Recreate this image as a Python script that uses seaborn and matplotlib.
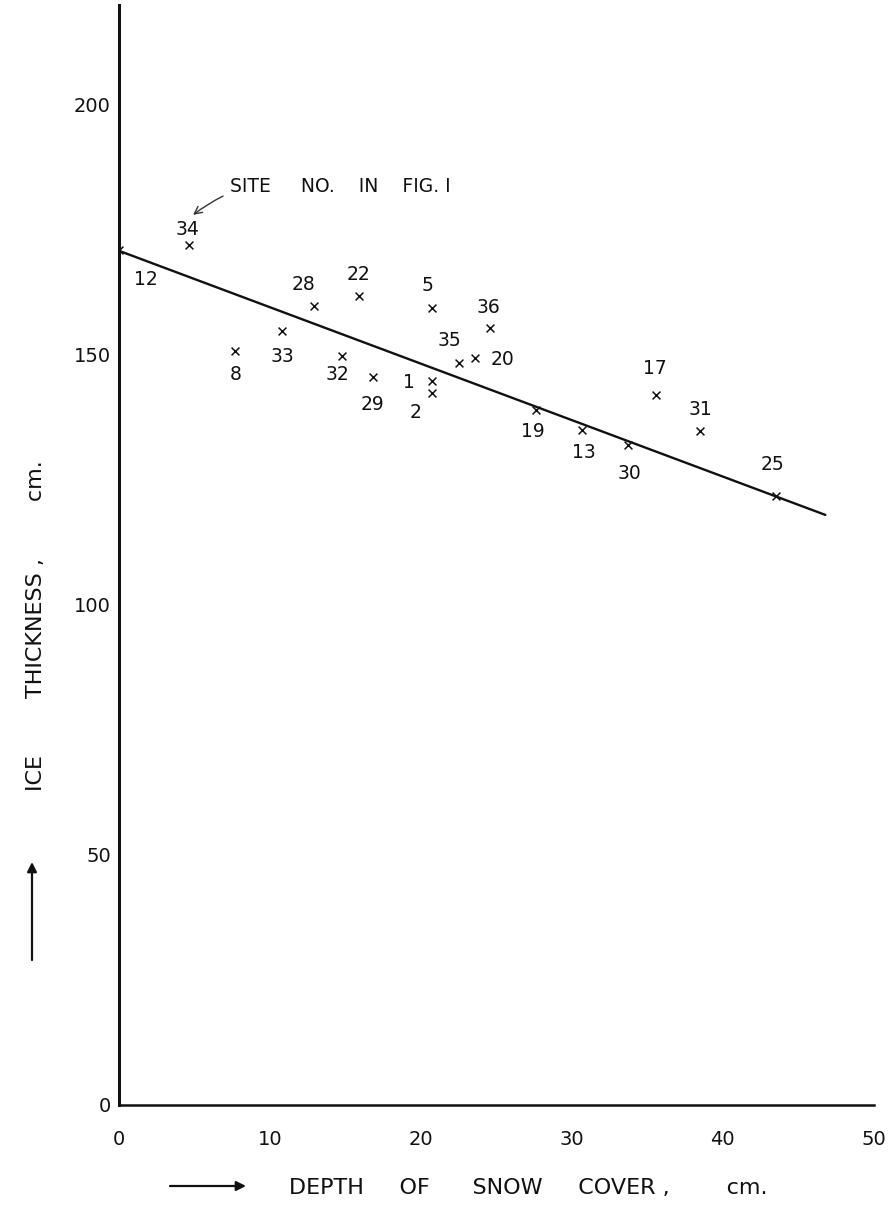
import matplotlib
matplotlib.use("Agg")
import matplotlib.pyplot as plt
import seaborn as sns
import pandas as pd
from matplotlib.ticker import MultipleLocator

# ---- data ----
sites = ["34", "12", "28", "22", "5", "36", "33", "8", "32", "29",
         "1", "2", "35", "20", "19", "13", "30", "17", "31", "25"]
snow_depth = [4.6, 0.0, 12.9, 15.9, 20.7, 24.6, 10.8, 7.7, 14.8, 16.8,
              20.7, 20.7, 22.5, 23.6, 27.6, 30.7, 33.7, 35.6, 38.5, 43.5]
ice_thickness = [172.0, 171.0, 159.8, 161.8, 159.4, 155.4, 154.8, 150.8, 149.8, 145.6,
                 144.8, 142.4, 148.4, 149.4, 139.0, 135.0, 132.0, 142.0, 134.8, 121.8]

fit_x = [0.0, 46.8]
fit_y = [170.8, 118.0]

x_ticks = [0, 10, 20, 30, 40, 50]
y_ticks = [0, 50, 100, 150, 200]

# label offsets (pixels) relative to each marker
label_offsets = {
    "34": (-1, 15), "12": (27, -30), "28": (-10, 21), "22": (-1, 21),
    "5": (-4, 22), "36": (-2, 20), "33": (0, -26), "8": (0, -24),
    "32": (-5, -19), "29": (0, -28), "1": (-23, -2), "2": (-16, -20),
    "35": (-9, 22), "20": (27, -2), "19": (-3, -22), "13": (1, -23),
    "30": (2, -29), "17": (-1, 26), "31": (0, 21), "25": (-3, 31),
}

df = pd.DataFrame({"site": sites, "snow": snow_depth, "ice": ice_thickness})
line_df = pd.DataFrame({"snow": fit_x, "ice": fit_y})

sns.set_style("white")
plt.rcParams["font.family"] = ["DejaVu Sans"]

INK = "#111111"

fig = plt.figure(figsize=(8.96, 12.05), dpi=100)
ax = fig.add_axes([0.133, 0.083, 0.842, 0.913])

sns.lineplot(data=line_df, x="snow", y="ice", ax=ax, color=INK, linewidth=1.7)
sns.scatterplot(data=df, x="snow", y="ice", ax=ax, marker="x", color=INK,
                s=32, linewidth=1.1, zorder=3)

for s, xv, yv in zip(sites, snow_depth, ice_thickness):
    dx, dy = label_offsets[s]
    ax.annotate(s, (xv, yv), xytext=(dx, dy), textcoords="offset pixels",
                ha="center", va="center", fontsize=13.5, color=INK)

ax.annotate("SITE     NO.    IN    FIG. I", xy=(4.9, 178.0), xytext=(7.35, 183.6),
            ha="left", va="center", fontsize=13.5, color=INK,
            arrowprops=dict(arrowstyle="->", color="#333333", lw=1.0,
                            connectionstyle="arc3,rad=0.25", shrinkA=3, shrinkB=0))

ax.set_xlim(0, 50)
ax.set_ylim(0, 220)
ax.set_xticks(x_ticks)
ax.set_yticks(y_ticks)
ax.xaxis.set_minor_locator(MultipleLocator(5))
ax.tick_params(axis="x", which="major", direction="in", length=13, width=1.0,
               labelsize=14, pad=18, colors=INK)
ax.tick_params(axis="x", which="minor", direction="in", length=5, width=1.0)
ax.tick_params(axis="y", which="major", direction="in", length=5, width=1.0,
               labelsize=14, pad=6, colors=INK)

for side in ["top", "right"]:
    ax.spines[side].set_visible(False)
ax.spines["left"].set_linewidth(2.2)
ax.spines["bottom"].set_linewidth(1.8)
ax.spines["left"].set_color(INK)
ax.spines["bottom"].set_color(INK)

ax.set_xlabel("")
ax.set_ylabel("")

# axis titles with hand-drawn style arrows
fig.text(0.590, 0.0145, "DEPTH     OF      SNOW     COVER ,        cm.", ha="center",
         va="center", fontsize=16, color=INK)
ax.annotate("", xy=(246, 19), xytext=(170, 19), xycoords="figure pixels",
            textcoords="figure pixels", annotation_clip=False,
            arrowprops=dict(arrowstyle="-|>", color=INK, lw=1.6,
                            mutation_scale=14, shrinkA=0, shrinkB=0))
fig.text(0.040, 0.4805, "ICE        THICKNESS ,        cm.", ha="center", va="center",
         rotation=90, fontsize=16, color=INK)
ax.annotate("", xy=(32, 343), xytext=(32, 245), xycoords="figure pixels",
            textcoords="figure pixels", annotation_clip=False,
            arrowprops=dict(arrowstyle="-|>", color=INK, lw=1.6,
                            mutation_scale=14, shrinkA=0, shrinkB=0))

fig.savefig("out.png", dpi=100, facecolor="white")
